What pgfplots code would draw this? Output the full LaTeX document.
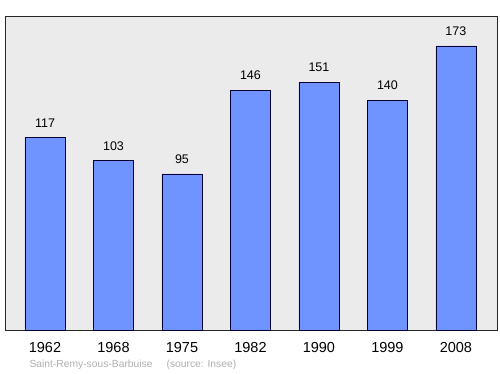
\documentclass[border=0pt]{standalone}
\usepackage{pgfplots}
\pgfplotsset{compat=1.18}
\usepackage{fontspec}
\setmainfont{Liberation Sans}
\definecolor{barfill}{RGB}{112,148,255}
\definecolor{bgfill}{RGB}{235,235,235}
\definecolor{srcgray}{RGB}{175,175,175}
\begin{document}
\begin{tikzpicture}
\useasboundingbox (-5bp,-44bp) rectangle (495bp,330bp);
\begin{axis}[
  at={(0,0)}, anchor=south west,
  scale only axis,
  width=492bp, height=313bp,
  xmin=-0.584, xmax=6.6,
  ymin=0, ymax=190.6,
  axis background/.style={fill=bgfill},
  axis line style={draw=black!85, line width=1pt},
  ybar, bar width=40bp,
  xtick={0,1,2,3,4,5,6},
  xticklabels={1962,1968,1975,1982,1990,1999,2008},
  major tick length=0pt,
  ytick=\empty,
  xticklabel style={font=\fontsize{14.5bp}{16bp}\selectfont, yshift=-9bp},
  /pgf/number format/assume math mode=true,
  nodes near coords,
  every node near coord/.append style={font=\fontsize{12.5bp}{14bp}\selectfont, yshift=7bp},
  clip=false,
]
\addplot[fill=barfill, draw=black!80!blue, line width=0.8pt] coordinates {(0,117) (1,103) (2,95) (3,146) (4,151) (5,140) (6,173)};
\end{axis}
\node[anchor=west, text=srcgray, font=\fontsize{10.3bp}{12bp}\selectfont] at (21bp,-35bp) {Saint-Remy-sous-Barbuise\hspace{14bp}(source: Insee)};
\end{tikzpicture}
\end{document}
